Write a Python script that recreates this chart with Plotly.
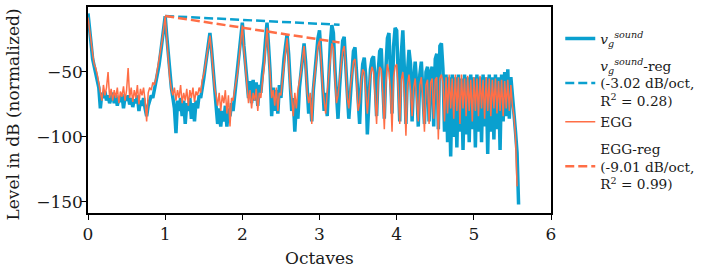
import numpy as np
import plotly.graph_objects as go

# Spectrum levels in dB, sampled every 0.02 octaves from 0.00 to 5.58
step = 0.02

vg_sound = [
    -5, -20, -28, -40, -45, -50, -55, -62, -78, -66,          # 0.00
    -70, -65, -72, -68, -74, -70, -66, -74, -68, -76,         # 0.20
    -70, -73, -67, -78, -69, -72, -68, -75, -70, -77,         # 0.40
    -71, -74, -68, -80, -72, -76, -70, -78, -84, -76,         # 0.60
    -72, -68, -70, -64, -58, -52, -45, -36, -25, -16,         # 0.80
    -7, -22, -38, -52, -62, -70, -78, -97, -72, -80,          # 1.00
    -70, -84, -72, -90, -74, -80, -70, -86, -74, -88,         # 1.20
    -72, -78, -68, -70, -60, -55, -46, -38, -28, -20,         # 1.40
    -32, -50, -64, -76, -90, -78, -92, -80, -88, -76,         # 1.60
    -92, -78, -84, -74, -80, -68, -60, -48, -36, -24,         # 1.80
    -12, -30, -46, -56, -70, -57, -74, -56, -72, -58,         # 2.00
    -76, -60, -66, -52, -42, -26, -12, -30, -50, -84,         # 2.20
    -62, -80, -64, -82, -60, -70, -52, -40, -30, -21,         # 2.40
    -36, -58, -80, -70, -96, -74, -86, -62, -50, -38,         # 2.60
    -28, -42, -64, -82, -70, -88, -64, -50, -36, -24,         # 2.80
    -18, -34, -58, -80, -66, -84, -50, -28, -14, -20,         # 3.00
    -48, -72, -86, -62, -44, -26, -23, -40, -66, -86,         # 3.20
    -70, -48, -34, -31, -48, -72, -90, -60, -44, -39,         # 3.40
    -54, -98, -70, -48, -40, -38, -56, -84, -50, -34,         # 3.60
    -32, -56, -86, -48, -24, -20, -46, -82, -30, -16,         # 3.80
    -18, -48, -88, -36, -18, -48, -90, -50, -33, -44,         # 4.00
    -88, -56, -42, -60, -92, -52, -42, -66, -90, -50,         # 4.20
    -46, -88, -50, -46, -92, -40, -36, -94, -30, -28,         # 4.40
    -48, -96, -52, -104, -54, -115, -52, -100, -54, -108,     # 4.60
    -52, -96, -55, -110, -52, -98, -54, -104, -52, -94,       # 4.80
    -54, -108, -52, -96, -54, -104, -52, -92, -54, -113,      # 5.00
    -52, -96, -54, -102, -52, -94, -54, -110, -52, -88,       # 5.20
    -50, -84, -48, -86, -54, -68, -80, -96, -112, -152,       # 5.40
]

egg = [
    -8, -18, -30, -36, -44, -47, -52, -58, -66, -72,          # 0.00
    -60, -68, -62, -50, -70, -63, -72, -64, -70, -62,         # 0.20
    -74, -65, -69, -61, -72, -64, -47, -70, -62, -73,         # 0.40
    -64, -70, -60, -75, -63, -68, -62, -72, -88, -66,         # 0.60
    -62, -64, -58, -60, -55, -48, -42, -34, -26, -17,         # 0.80
    -7, -24, -40, -55, -63, -68, -62, -72, -64, -70,          # 1.00
    -60, -74, -66, -72, -63, -76, -64, -70, -62, -73,         # 1.20
    -65, -68, -62, -66, -56, -52, -45, -38, -30, -22,         # 1.40
    -34, -52, -62, -68, -76, -66, -80, -68, -74, -64,         # 1.60
    -82, -68, -92, -70, -72, -64, -58, -50, -38, -26,         # 1.80
    -14, -32, -48, -62, -74, -64, -78, -66, -72, -63,         # 2.00
    -80, -66, -70, -58, -48, -32, -16, -34, -54, -70,         # 2.20
    -64, -76, -62, -80, -66, -68, -56, -44, -34, -24,         # 2.40
    -40, -62, -70, -84, -66, -78, -64, -58, -50, -40,         # 2.60
    -30, -46, -66, -74, -66, -90, -62, -52, -40, -30,         # 2.80
    -26, -40, -62, -72, -82, -66, -52, -36, -28, -32,         # 3.00
    -56, -74, -68, -56, -44, -34, -30, -46, -70, -78,         # 3.20
    -62, -50, -42, -40, -56, -80, -74, -58, -48, -50,         # 3.40
    -64, -82, -66, -52, -46, -50, -68, -90, -56, -46,         # 3.60
    -48, -66, -94, -58, -44, -50, -64, -96, -54, -46,         # 3.80
    -44, -62, -90, -56, -50, -66, -99, -60, -52, -64,         # 4.00
    -84, -62, -55, -70, -88, -60, -54, -72, -96, -60,         # 4.20
    -56, -90, -58, -55, -86, -56, -54, -102, -55, -52,        # 4.40
    -58, -88, -54, -82, -52, -78, -55, -86, -52, -80,         # 4.60
    -54, -90, -52, -78, -55, -84, -53, -80, -56, -88,         # 4.80
    -54, -80, -55, -84, -53, -78, -56, -86, -54, -80,         # 5.00
    -55, -84, -56, -78, -55, -82, -57, -80, -56, -84,         # 5.20
    -57, -78, -56, -80, -60, -76, -84, -100, -138, None,      # 5.40
]

octaves = np.round(np.arange(len(vg_sound)) * step, 2)

# Regression lines (start/end octave and level)
reg_x = [1.0, 3.26]
vg_reg = [-6.9, -13.7]
egg_reg = [-6.9, -27.3]

x_ticks = [0, 1, 2, 3, 4, 5, 6]
y_ticks = [-50, -100, -150]

BLUE = "#0AA0CF"
ORANGE = "#FF6E46"
FONT = "DejaVu Serif"
TXT = "#1a1a1a"

fig = go.Figure()
fig.add_trace(go.Scatter(
    x=octaves, y=vg_sound, mode="lines",
    line=dict(color=BLUE, width=3.5), legendgroup="g1",
    name="<i>v</i><sub><i>g</i></sub><sup><i>sound</i></sup>", legendrank=1))
fig.add_trace(go.Scatter(
    x=octaves, y=egg, mode="lines",
    line=dict(color=ORANGE, width=1.5), legendgroup="g2",
    name="EGG", legendrank=3))
fig.add_trace(go.Scatter(
    x=reg_x, y=vg_reg, mode="lines",
    line=dict(color=BLUE, width=2.5, dash="9px,4px"), legendgroup="g2",
    name="<i>v</i><sub><i>g</i></sub><sup><i>sound</i></sup>-reg<br>(-3.02 dB/oct,<br>R<sup>2</sup> = 0.28)",
    legendrank=2))
fig.add_trace(go.Scatter(
    x=reg_x, y=egg_reg, mode="lines",
    line=dict(color=ORANGE, width=2.5, dash="9px,4px"), legendgroup="g4",
    name="EGG-reg<br>(-9.01 dB/oct,<br>R<sup>2</sup> = 0.99)",
    legendrank=4))

axis_common = dict(
    showline=True, linecolor="black", linewidth=1.5, mirror=True,
    ticks="outside", ticklen=5, tickwidth=1.3, tickcolor="black",
    showgrid=False, zeroline=False, automargin=False,
    tickfont=dict(family=FONT, size=17, color=TXT),
)

fig.update_layout(
    template="none",
    width=706, height=267,
    margin=dict(l=88, r=151, t=7, b=54),
    paper_bgcolor="white", plot_bgcolor="white",
    font=dict(family=FONT, color=TXT),
    xaxis=dict(range=[0, 6], tickvals=x_ticks, **axis_common),
    yaxis=dict(range=[-158.5, 0], tickvals=y_ticks, ticklabelstandoff=-5, **axis_common),
    legend=dict(x=1.02, y=0.922, xanchor="left", yanchor="top",
                font=dict(family=FONT, size=13.7, color=TXT),
                bgcolor="rgba(0,0,0,0)", tracegroupgap=6),
    showlegend=True,
    annotations=[
        dict(text="Octaves", xref="paper", yref="paper", x=0.501, y=-0.218,
             xanchor="center", yanchor="middle", showarrow=False,
             font=dict(family=FONT, size=17, color=TXT)),
        dict(text="Level in dB (normalized)", xref="paper", yref="paper",
             x=-0.163, y=0.476, xanchor="center", yanchor="middle",
             textangle=-90, showarrow=False,
             font=dict(family=FONT, size=17, color=TXT)),
    ],
)

fig.write_html("out.html", config={"displayModeBar": False},
               post_script="document.body.style.margin='0';")
